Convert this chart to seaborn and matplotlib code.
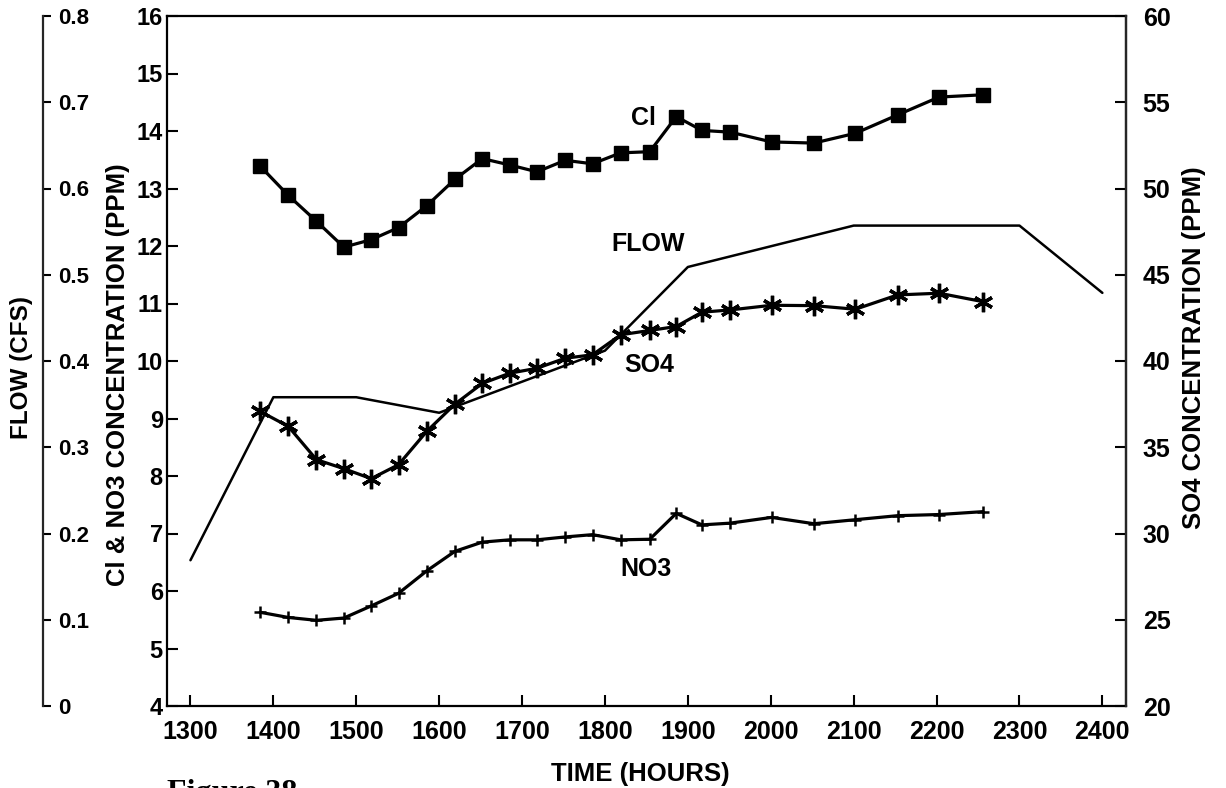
import numpy as np
import pandas as pd
import matplotlib
matplotlib.use("Agg")
import matplotlib.pyplot as plt
import seaborn as sns

# ---------------- data ----------------
time_hours = [1384, 1418, 1452, 1485, 1518, 1551, 1585, 1619, 1652, 1685, 1718, 1752,
              1785, 1819, 1854, 1886, 1917, 1951, 2001, 2052, 2102, 2153, 2203, 2256]
cl_ppm = [13.39, 12.88, 12.43, 11.98, 12.11, 12.32, 12.70, 13.16, 13.52, 13.41, 13.29, 13.49,
          13.43, 13.62, 13.64, 14.25, 14.01, 13.98, 13.81, 13.79, 13.96, 14.28, 14.59, 14.63]
no3_ppm = [5.63, 5.54, 5.49, 5.53, 5.74, 5.96, 6.35, 6.69, 6.85, 6.89, 6.89, 6.94,
           6.98, 6.89, 6.90, 7.35, 7.15, 7.18, 7.28, 7.17, 7.24, 7.31, 7.33, 7.38]
so4_ppm = [37.08, 36.21, 34.28, 33.76, 33.18, 33.99, 35.92, 37.50, 38.70, 39.29, 39.58, 40.16,
           40.36, 41.52, 41.77, 42.00, 42.83, 42.96, 43.23, 43.21, 43.00, 43.83, 43.93, 43.44]
flow_time = [1300, 1400, 1500, 1600, 1800, 1900, 2100, 2300, 2400]
flow_cfs = [0.169, 0.358, 0.358, 0.340, 0.412, 0.509, 0.557, 0.557, 0.479]

x_ticks = list(range(1300, 2401, 100))
left_ticks = list(range(4, 17))
right_ticks = list(range(20, 61, 5))
flow_ticks = [0, 0.1, 0.2, 0.3, 0.4, 0.5, 0.6, 0.7, 0.8]
flow_tick_labels = ["0", "0.1", "0.2", "0.3", "0.4", "0.5", "0.6", "0.7", "0.8"]

df = pd.DataFrame({"time": time_hours, "cl": cl_ppm, "no3": no3_ppm, "so4": so4_ppm})
df_flow = pd.DataFrame({"time": flow_time, "flow": flow_cfs})

# ---------------- style ----------------
sns.set_style("ticks")
plt.rcParams["font.family"] = ["Liberation Sans", "DejaVu Sans"]
plt.rcParams["font.weight"] = "bold"
plt.rcParams["axes.labelweight"] = "bold"
plt.rcParams["axes.linewidth"] = 1.6
plt.rcParams["text.color"] = "black"
plt.rcParams["axes.labelcolor"] = "black"
plt.rcParams["xtick.color"] = "black"
plt.rcParams["ytick.color"] = "black"

W, H = 1226, 788
fig = plt.figure(figsize=(W / 100, H / 100), dpi=100)
fig.patch.set_facecolor("white")

left_px, right_px, top_px, bottom_px = 167, 1126, 16, 706
ax = fig.add_axes([left_px / W, 1 - bottom_px / H,
                   (right_px - left_px) / W, (bottom_px - top_px) / H])
ax.set_facecolor("white")

ax_so4 = ax.twinx()
ax_flow = ax.twinx()

line_kw = dict(color="black", linewidth=2.3)

sns.lineplot(data=df, x="time", y="cl", ax=ax, marker="s", markersize=10.5,
             markeredgecolor="black", markerfacecolor="black", markeredgewidth=1.0, **line_kw)
sns.lineplot(data=df, x="time", y="no3", ax=ax, marker="+", markersize=8,
             markeredgecolor="black", markeredgewidth=1.8, **line_kw)
sns.lineplot(data=df, x="time", y="so4", ax=ax_so4, marker=(6, 2, 0), markersize=14,
             markeredgecolor="black", markeredgewidth=2.4, **line_kw)
sns.lineplot(data=df_flow, x="time", y="flow", ax=ax_flow, color="black", linewidth=1.8)

# main axis
ax.set_xlim(1271.7, 2428.5)
ax.set_ylim(4, 16)
ax.set_xticks(x_ticks)
ax.set_yticks(left_ticks)
ax.tick_params(axis="x", direction="in", length=8, width=1.5, pad=10, labelsize=18)
ax.tick_params(axis="y", direction="in", length=8, width=1.5, pad=3, labelsize=17,
               left=True, right=False)
for s in ax.spines.values():
    s.set_visible(True)
    s.set_linewidth(1.6)
    s.set_color("black")
ax.set_xlabel("TIME (HOURS)", fontsize=18.5)
ax.xaxis.set_label_coords(0.494, -0.081)
ax.set_ylabel("Cl & NO3 CONCENTRATION (PPM)", fontsize=18.5)
ax.yaxis.set_label_coords(-0.0386, 0.48)

# SO4 axis (right)
ax_so4.set_ylim(20, 60)
ax_so4.set_yticks(right_ticks)
ax_so4.tick_params(axis="y", direction="in", length=8, width=1.5, pad=12, labelsize=18)
for k in ["left", "top", "bottom"]:
    ax_so4.spines[k].set_visible(False)
ax_so4.spines["right"].set_linewidth(1.6)
ax_so4.set_ylabel("SO4 CONCENTRATION (PPM)", fontsize=18.5)
ax_so4.yaxis.set_label_position("right")
ax_so4.yaxis.set_label_coords(1.0584, 0.52)

# Flow axis (far left, labels to the right of its spine)
ax_flow.set_ylim(0, 0.8)
ax_flow.spines["right"].set_position(("axes", (43 - left_px) / (right_px - left_px)))
for k in ["left", "top", "bottom"]:
    ax_flow.spines[k].set_visible(False)
ax_flow.spines["right"].set_linewidth(1.6)
ax_flow.set_yticks(flow_ticks)
ax_flow.set_yticklabels(flow_tick_labels)
ax_flow.tick_params(axis="y", direction="out", length=6, width=1.5, pad=5, labelsize=16)
ax_flow.set_ylabel("FLOW (CFS)", fontsize=17.5)
ax_flow.yaxis.set_label_position("left")
ax_flow.yaxis.set_label_coords(-0.1397, 0.49)

for a in (ax, ax_so4, ax_flow):
    a.grid(False)

# in-plot series labels
ax.text(1846, 14.23, "Cl", fontsize=18, ha="center", va="center")
ax.text(1852, 12.03, "FLOW", fontsize=18, ha="center", va="center")
ax.text(1853, 9.93, "SO4", fontsize=18, ha="center", va="center")
ax.text(1850, 6.38, "NO3", fontsize=18, ha="center", va="center")

# partially visible caption at the bottom edge (cut off in the reference scan)
fig.text(167 / W, 1 - 779 / H, "Figure 38", fontsize=23, fontweight="bold",
         family=["Liberation Serif", "DejaVu Serif"], ha="left", va="top")

fig.savefig("out.png", dpi=100, facecolor="white")
